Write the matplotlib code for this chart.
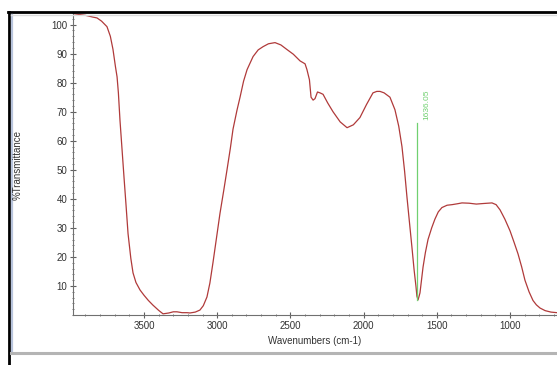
import matplotlib
matplotlib.use('Agg')
import matplotlib.pyplot as plt
from matplotlib.lines import Line2D
from matplotlib.ticker import MultipleLocator

plt.rcParams['font.family'] = ['Liberation Sans', 'DejaVu Sans']

# spectrum (wavenumber cm-1, %T)
wavenumbers = [3985, 3958, 3900, 3850, 3821, 3790, 3753, 3730, 3712, 3695,
               3684, 3675, 3664, 3650, 3636, 3623, 3609, 3590, 3575, 3555,
               3527, 3500, 3470, 3439, 3400, 3370, 3330, 3300, 3275, 3240,
               3206, 3186, 3150, 3118, 3095, 3070, 3050, 3029, 3005, 2981,
               2955, 2933, 2910, 2892, 2865, 2844, 2820, 2796, 2755, 2720,
               2687, 2650, 2605, 2565, 2523, 2480, 2434, 2400, 2387, 2370,
               2359, 2345, 2332, 2315, 2298, 2277, 2245, 2209, 2160, 2113,
               2070, 2025, 1980, 1936, 1910, 1888, 1860, 1820, 1786, 1760,
               1738, 1720, 1704, 1685, 1670, 1655, 1642, 1636, 1628, 1615,
               1594, 1578, 1560, 1535, 1513, 1490, 1465, 1430, 1396, 1360,
               1328, 1280, 1230, 1180, 1123, 1095, 1068, 1035, 1000, 972,
               945, 920, 898, 870, 843, 820, 795, 760, 720, 679]
transmittance = [103.8, 103.6, 103.2, 102.6, 102.3, 101.2, 99.3, 96.0, 91.5, 85.5,
                 82.0, 76.5, 67.0, 57.0, 47.0, 38.0, 28.0, 19.5, 14.5, 11.2,
                 8.6, 6.8, 5.0, 3.4, 1.6, 0.4, 0.7, 1.1, 1.1, 0.8,
                 0.8, 0.7, 1.0, 1.7, 3.2, 6.2, 11.0, 18.0, 26.5, 35.0,
                 43.0, 50.0, 57.5, 64.0, 70.5, 75.0, 80.5, 84.5, 89.0, 91.3,
                 92.4, 93.4, 93.8, 93.0, 91.4, 89.8, 87.5, 86.5, 84.5, 81.0,
                 75.0, 74.0, 74.5, 76.8, 76.5, 76.0, 73.0, 70.0, 66.5, 64.5,
                 65.5, 68.0, 72.5, 76.5, 77.0, 77.0, 76.5, 75.0, 70.7, 65.0,
                 58.0, 49.5, 40.7, 31.0, 23.4, 15.5, 9.7, 6.5, 5.2, 7.6,
                 16.5, 21.5, 26.0, 30.0, 33.0, 35.5, 37.0, 37.8, 38.0, 38.3,
                 38.6, 38.5, 38.2, 38.4, 38.6, 38.0, 36.2, 33.0, 29.0, 25.0,
                 21.0, 16.5, 12.0, 8.0, 5.0, 3.5, 2.4, 1.5, 1.0, 0.8]

peak_pos = 1636.05
peak_label = '1636.05'
x_ticks = [3500, 3000, 2500, 2000, 1500, 1000]
y_ticks = [10, 20, 30, 40, 50, 60, 70, 80, 90, 100]

fig = plt.figure(figsize=(5.57, 3.65), dpi=100)
fig.patch.set_facecolor('white')

# window frame around the plot
fig.add_artist(Line2D([8 / 557, 1], [1 - 12 / 365] * 2, color='black', lw=2))
fig.add_artist(Line2D([9 / 557] * 2, [0, 1 - 12 / 365], color='black', lw=2))
fig.add_artist(Line2D([12 / 557] * 2, [1 - 353 / 365, 1 - 15 / 365], color='#b8c4dc', lw=1.6))
fig.add_artist(Line2D([11 / 557, 1], [1 - 14.5 / 365] * 2, color='#dcdcdc', lw=1))
fig.add_artist(Line2D([11 / 557, 1], [1 - 353 / 365] * 2, color='#b4b4b4', lw=2.2))

ax = fig.add_axes([73 / 557, 1 - 315 / 365, (557 - 73) / 557, (315 - 13) / 365])
ax.plot(wavenumbers, transmittance, color='#b03a3a', lw=0.9)

# peak marker
ax.plot([peak_pos, peak_pos], [5.2, 66], color='#70d070', lw=0.9)
ax.text(peak_pos - 65, 67.0, peak_label, rotation=90, color='#70d070',
        fontsize=6, ha='center', va='bottom')

ax.set_xlim(3985, 679)
ax.set_ylim(0, 104)
ax.set_xticks(x_ticks)
ax.set_yticks(y_ticks)
ax.xaxis.set_minor_locator(MultipleLocator(100))
ax.yaxis.set_minor_locator(MultipleLocator(2))

for side in ['top', 'right']:
    ax.spines[side].set_visible(False)
for side in ['left', 'bottom']:
    ax.spines[side].set_color('#707070')
    ax.spines[side].set_linewidth(0.8)

ax.tick_params(which='major', direction='inout', length=4, width=0.8,
               color='#606060', labelsize=7, labelcolor='#333333', pad=2)
ax.tick_params(which='minor', direction='inout', length=2, width=0.6,
               color='#606060')

ax.set_xlabel('Wavenumbers (cm-1)', fontsize=7, color='#333333', labelpad=4)
fig.text(18 / 557, 1 - 165 / 365, '%Transmittance', rotation=90, fontsize=7,
         color='#333333', ha='center', va='center')

fig.savefig('out.png', dpi=100)
